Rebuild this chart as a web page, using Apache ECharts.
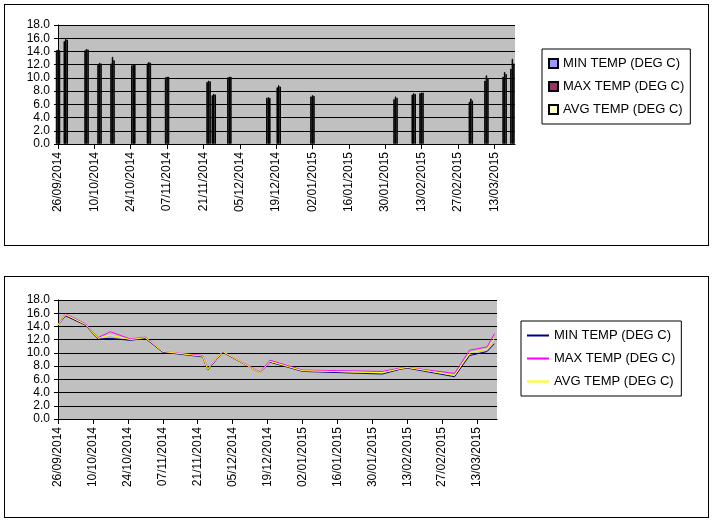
<!DOCTYPE html>
<html><head><meta charset="utf-8">
<script src="https://cdn.jsdelivr.net/npm/echarts@6/dist/echarts.min.js"></script>
<style>
body{margin:0;background:#fff;}
.box{position:absolute;left:4px;width:703px;border:1px solid #000;background:#fff;}
#c1{top:4px;height:240px;}
#c2{top:276px;height:240px;}
</style></head><body>
<div class="box" id="c1"></div>
<div class="box" id="c2"></div>
<script>
var startDate = '2014-09-26';
var dates = ['2014-09-26','2014-09-29','2014-10-07','2014-10-12','2014-10-17','2014-10-25','2014-10-31','2014-11-07','2014-11-23','2014-11-25','2014-12-01','2014-12-16','2014-12-20','2015-01-02','2015-02-03','2015-02-10','2015-02-13','2015-03-04','2015-03-10','2015-03-17','2015-03-20'];
var minTemp = [14.2,15.6,14.2,12.1,12.2,11.9,12.2,10.1,9.4,7.4,10.1,7.0,8.6,7.2,6.8,7.5,7.7,6.4,9.6,10.2,11.4];
var maxTemp = [14.3,15.9,14.4,12.3,13.2,12.1,12.4,10.2,9.6,7.6,10.2,7.1,8.9,7.4,7.2,7.7,7.8,6.9,10.4,10.9,12.9];
var avgTemp = [14.2,15.8,14.3,12.2,12.7,12.0,12.3,10.2,9.5,7.5,10.2,7.0,8.7,7.3,7.0,7.6,7.8,6.6,10.0,10.6,12.2];
var names = ['MIN TEMP (DEG C)','MAX TEMP (DEG C)','AVG TEMP (DEG C)'];

var DAY = 86400000;
var t0 = Date.parse(startDate);
function dayOf(s){ return Math.round((Date.parse(s)-t0)/DAY); }
function pairs(vals){ return dates.map(function(d,i){ return [dayOf(d), vals[i]]; }); }
function fmt(v){
  var d = new Date(t0 + v*DAY);
  var dd = ('0'+d.getUTCDate()).slice(-2), mm = ('0'+(d.getUTCMonth()+1)).slice(-2);
  return dd+'/'+mm+'/'+d.getUTCFullYear();
}
var font = 'Liberation Sans, Arial, sans-serif';

function baseOption(gridRight, gridTop, legendLeft, legendW){
  return {
    animation:false,
    textStyle:{fontFamily:font},
    grid:{left:53,right:gridRight,top:gridTop,height:119},
    xAxis:{type:'value',min:0,max:176,interval:14,
      axisLine:{lineStyle:{color:'#000'}},axisTick:{show:true,length:5,lineStyle:{color:'#000'}},
      splitLine:{show:false},
      axisLabel:{rotate:90,color:'#000',fontSize:12,fontFamily:font,showMaxLabel:false,formatter:fmt}},
    yAxis:{type:'value',min:0,max:18,interval:2,
      axisLine:{show:true,lineStyle:{color:'#000'}},axisTick:{show:true,length:4,lineStyle:{color:'#000'}},
      splitLine:{lineStyle:{color:'#000'}},
      axisLabel:{color:'#000',fontSize:12,fontFamily:font,formatter:function(v){return v.toFixed(1);}}},
    legend:{orient:'vertical',left:legendLeft,top:44,width:legendW,itemGap:10,padding:[8,6,8,6],
      borderColor:'#000',borderWidth:1,itemWidth:9,itemHeight:9,
      textStyle:{color:'#000',fontSize:13,fontFamily:font},data:names},
    series:[]
  };
}

var c1 = echarts.init(document.getElementById('c1'));
var o1 = baseOption(193,20,537,160);
o1.grid.backgroundColor = '#c0c0c0'; o1.grid.show = true; o1.grid.borderWidth = 0;
var barColors = ['#9999ff','#993366','#ffffcc'];
[minTemp,maxTemp,avgTemp].forEach(function(v,i){
  o1.series.push({name:names[i],type:'bar',barWidth:1.5,barGap:'0%',data:pairs(v),
    itemStyle:{color:barColors[i],borderColor:'#000',borderWidth:1}});
});
o1.legend.data = names.map(function(n){return {name:n,icon:'rect'};});
c1.setOption(o1);

var c2 = echarts.init(document.getElementById('c2'));
var o2 = baseOption(211,23,516,180);
o2.grid.backgroundColor = '#c0c0c0'; o2.grid.show = true; o2.grid.borderWidth = 0;
var lineColors = ['#000080','#ff00ff','#ffff00'];
[minTemp,maxTemp,avgTemp].forEach(function(v,i){
  o2.series.push({name:names[i],type:'line',showSymbol:false,symbol:'none',data:pairs(v),
    lineStyle:{color:lineColors[i],width:1},itemStyle:{color:lineColors[i]}});
});
o2.legend.itemWidth = 22; o2.legend.itemHeight = 2;
o2.legend.data = names.map(function(n){return {name:n,icon:'rect'};});
c2.setOption(o2);
</script>
</body></html>
